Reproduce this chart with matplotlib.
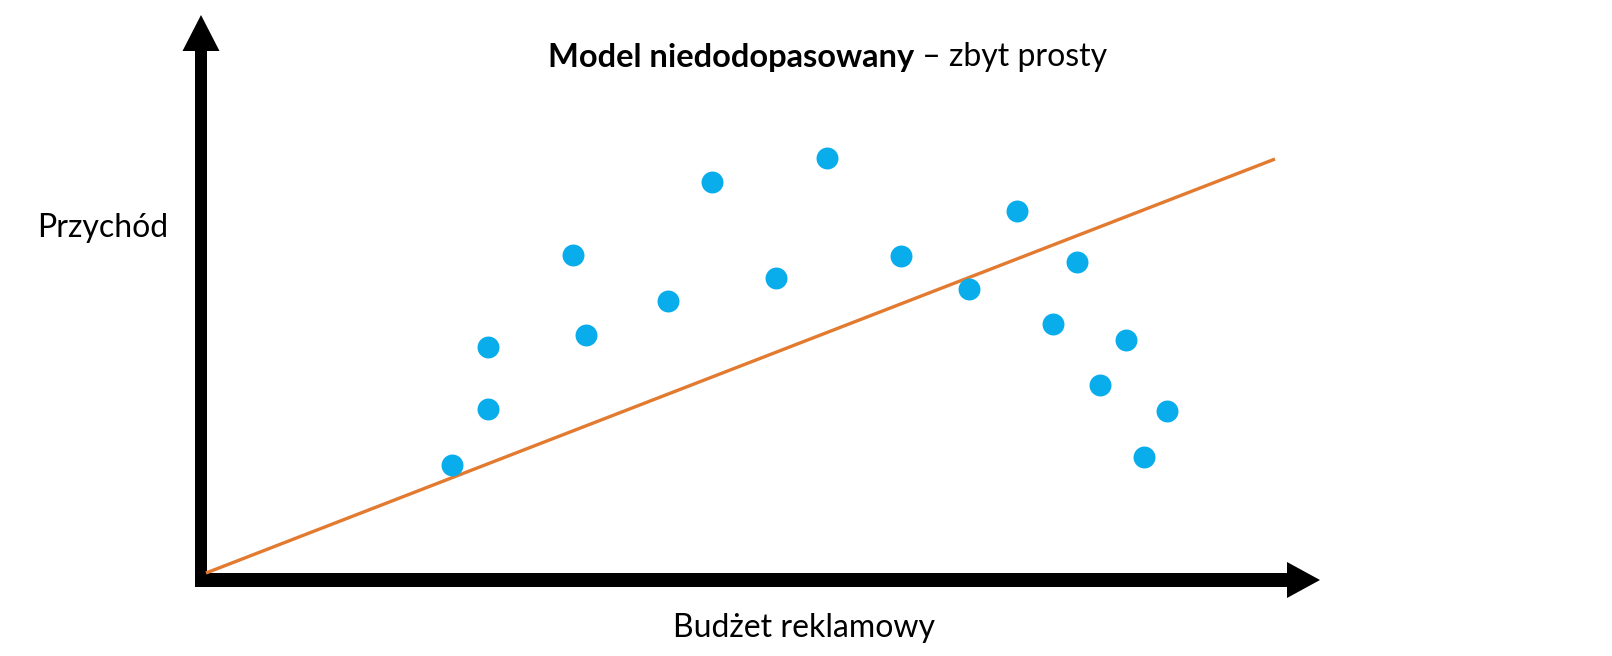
import matplotlib
matplotlib.use("Agg")
import matplotlib.pyplot as plt
from matplotlib.patches import FancyArrow

# Data (budget vs revenue, arbitrary units)
budget = [2.46, 2.82, 2.82, 3.67, 3.80, 4.62, 5.06, 5.70, 6.21, 6.95,
          7.63, 8.11, 8.47, 8.71, 8.94, 9.20, 9.38, 9.61]
revenue = [1.08, 1.64, 2.26, 3.18, 2.38, 2.72, 3.91, 2.95, 4.15, 3.17,
           2.84, 3.62, 2.49, 3.11, 1.88, 2.33, 1.16, 1.62]
fit_x = [0.0, 10.69]
fit_y = [0.0, 4.14]

title_bold = "Model niedodopasowany"
title_rest = " – zbyt prosty"
xlabel = "Budżet reklamowy"
ylabel = "Przychód"

FONT = ["Lato", "DejaVu Sans"]
FS = 23

fig = plt.figure(figsize=(16.12, 6.56), dpi=100)
ax = fig.add_axes([0, 0, 1, 1])
ax.set_xlim(-2.06, 14.06)
ax.set_ylim(-0.83, 5.73)
ax.axis("off")

# Axes arrows
ax.add_patch(FancyArrow(-0.05, -0.14, 0, 5.72, width=0.12, head_width=0.37,
                        head_length=0.36, length_includes_head=True,
                        color="black", lw=0))
ax.add_patch(FancyArrow(-0.11, -0.07, 11.25, 0, width=0.14, head_width=0.36,
                        head_length=0.33, length_includes_head=True,
                        color="black", lw=0))

# Fit line
ax.plot(fit_x, fit_y, color="#E27A30", lw=2.4, solid_capstyle="butt", zorder=2)

# Points
ax.plot(budget, revenue, "o", color="#0AADEC", markersize=15.8,
        markeredgewidth=0, zorder=3)

# Texts
t1 = ax.text(3.42, 5.06, title_bold, fontsize=23.5, fontweight="bold",
             family=FONT, ha="left", va="baseline")
ax.annotate(title_rest, xy=(1, 0), xycoords=t1, fontsize=FS, family=FONT,
            ha="left", va="bottom")
ax.text(-1.03, 3.36, ylabel, fontsize=FS, family=FONT, ha="center",
        va="baseline")
ax.text(5.98, -0.64, xlabel, fontsize=FS, family=FONT, ha="center",
        va="baseline")

fig.savefig("out.png", dpi=100)
